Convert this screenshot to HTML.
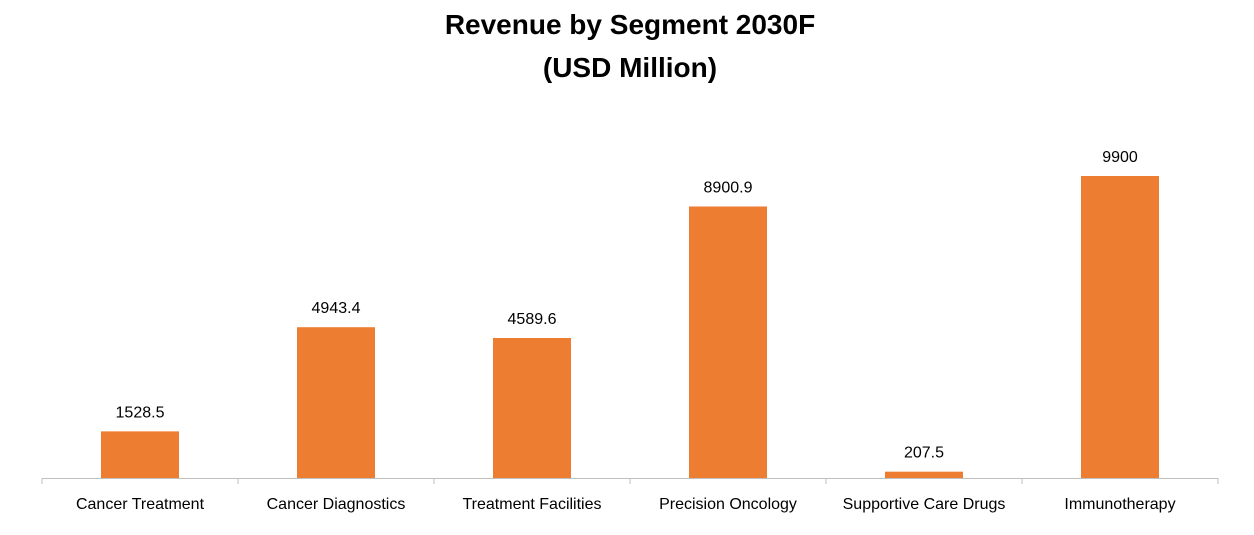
<!DOCTYPE html>
<html><head><meta charset="utf-8"><style>
body{margin:0;background:#fff;}
svg{display:block;font-family:"Liberation Sans",sans-serif;}
</style></head><body>
<svg id="chart" width="1254" height="535">
<text x="630" y="34" text-anchor="middle" font-size="28" font-weight="bold" fill="#000">Revenue by Segment 2030F</text>
<text x="630" y="77" text-anchor="middle" font-size="28" font-weight="bold" fill="#000">(USD Million)</text>
<g id="plot"></g>
</svg>
<script>
const categories=["Cancer Treatment","Cancer Diagnostics","Treatment Facilities","Precision Oncology","Supportive Care Drugs","Immunotherapy"];
const values=[1528.5,4943.4,4589.6,8900.9,207.5,9900];
const valueLabels=["1528.5","4943.4","4589.6","8900.9","207.5","9900"];
const NS="http://www.w3.org/2000/svg";
const plotG=document.getElementById('plot');
const x0=42,x1=1218,y0=478,plotTop=176,vmax=9900;
const band=(x1-x0)/categories.length;
const xC=i=>x0+band*(i+0.5);
const yS=v=>y0-(v/vmax)*(y0-plotTop);
const bw=78;
function mk(t,a){const e=document.createElementNS(NS,t);for(const k in a)e.setAttribute(k,a[k]);plotG.appendChild(e);return e;}
values.forEach((v,i)=>{
  const r=mk('rect',{x:xC(i)-bw/2,y:yS(v),width:bw,height:y0-yS(v),fill:'#ED7D31'});
  
  
  const t=mk('text',{x:xC(i),y:yS(v)-14,'text-anchor':'middle','font-size':'16',fill:'#000'});
  t.textContent=valueLabels[i];
  
  
  const c=mk('text',{x:xC(i),y:509,'text-anchor':'middle','font-size':'16',fill:'#000'});
  c.textContent=categories[i];
  
  
});
const ax=mk('line',{x1:x0,x2:x1,y1:y0+0.5,y2:y0+0.5,stroke:'#bfbfbf','stroke-width':1});


for(let i=0;i<=categories.length;i++){
  const tk=mk('line',{x1:x0+band*i,x2:x0+band*i,y1:y0,y2:y0+6,stroke:'#bfbfbf','stroke-width':1});
  
  
}
</script>
</body></html>
